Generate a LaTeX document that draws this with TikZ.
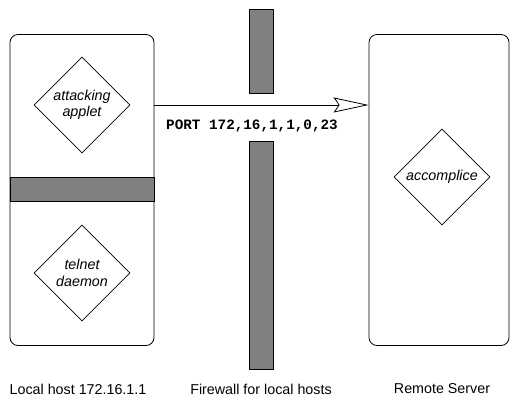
\documentclass[tikz,border=0pt]{standalone}
\usepackage{fontspec}
\setmainfont{Liberation Sans}
\newfontfamily\portfont{Liberation Mono}
\usetikzlibrary{shapes.geometric,arrows.meta}
\definecolor{wallgray}{HTML}{808080}
\begin{document}
\begin{tikzpicture}[x=1pt,y=-1pt,
  every node/.style={font=\fontsize{14.3}{16.5}\selectfont},
  hostbox/.style={draw, line width=0.8pt, rounded corners=8pt, minimum width=144pt, minimum height=311pt, inner sep=0pt},
  wall/.style={draw, line width=0.8pt, fill=wallgray, inner sep=0pt},
  proc/.style={draw, line width=0.8pt, diamond, minimum width=96pt, minimum height=96pt, inner sep=0pt, align=center, font=\fontsize{14.3}{16.5}\selectfont\itshape},
  caption/.style={inner sep=0pt}
]
\useasboundingbox (0,0) rectangle (510,398);
% hosts
\node[hostbox] (local) at (82,190) {};
\node[hostbox, minimum width=140pt] (remote) at (439,190) {};
% band inside local host
\node[wall, minimum width=144pt, minimum height=24pt] (band) at (82,189) {};
% firewall bars
\node[wall, minimum width=24pt, minimum height=84pt] (fwtop) at (261,51) {};
\node[wall, minimum width=24pt, minimum height=228pt] (fwbot) at (261,255) {};
% processes
\node[proc] (applet) at (82,105) {attacking\\applet};
\node[proc] (telnet) at (82,273) {telnet\\daemon};
\node[proc] (acc) at (442,177) {accomplice};
% connector
\draw[line width=0.8pt, -{Stealth[open, length=35pt, width=15pt, inset=5pt]}]
  (applet -| local.east) -- (applet -| remote.west);
\node[inner sep=0pt, font=\fontsize{14.3}{16.5}\portfont\bfseries] (port) at (252,126) {PORT 172,16,1,1,0,23};
% captions
\node[caption] (cl) at (78,389) {Local host 172.16.1.1};
\node[caption] (cf) at (261,389) {Firewall for local hosts};
\node[caption] (cr) at (442,389) {Remote Server};
\end{tikzpicture}
\end{document}
